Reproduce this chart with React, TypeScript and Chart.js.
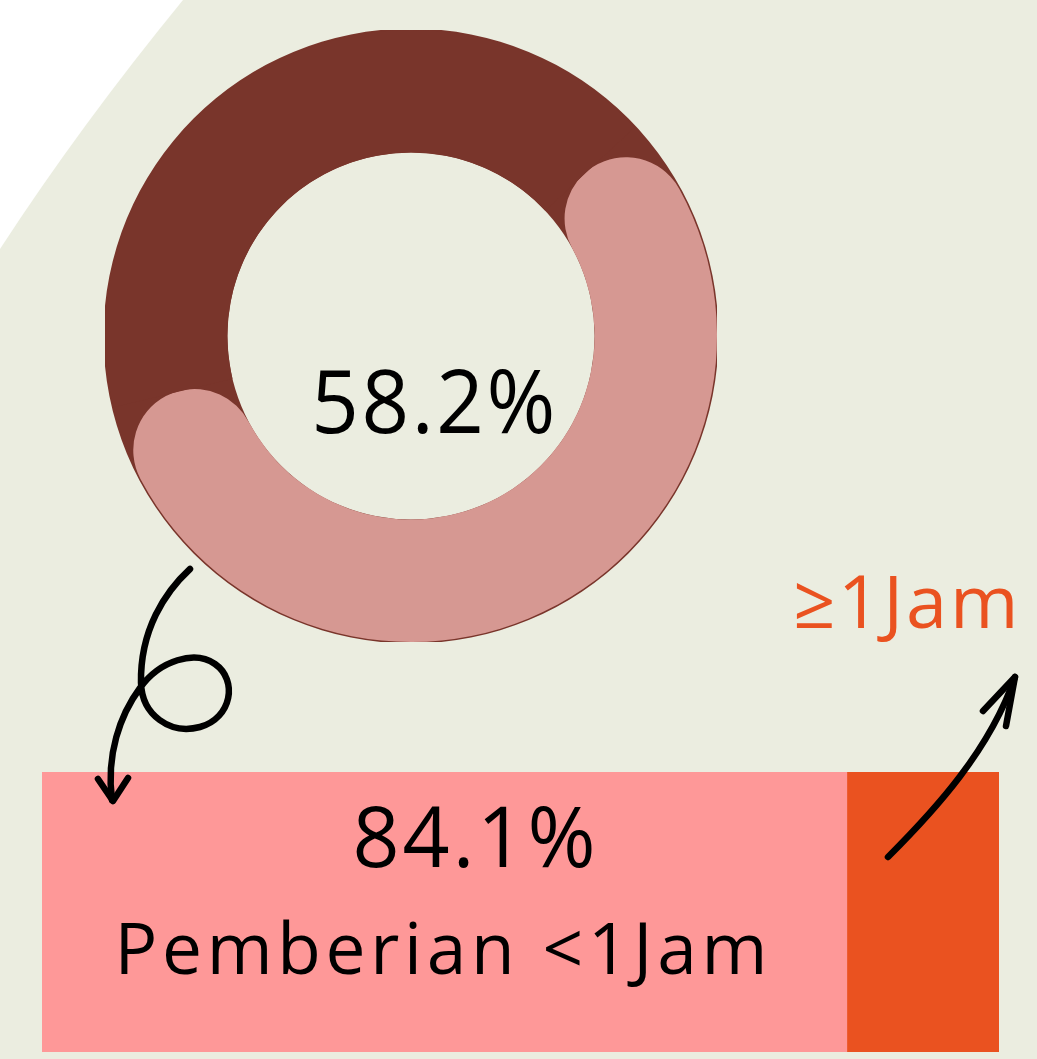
import React, { useEffect, useRef } from "react";
import { Chart, registerables } from "chart.js";

Chart.register(...registerables);

// ---- data ----
const donutLabels = ["Kelompok utama", "Lainnya"];
const donutValues = [58.2, 41.8];

const barCategories = ["Waktu pemberian"];
const barSeriesNames = ["Pemberian <1Jam", "≥1Jam"];
const barLessOneHour = [84.1];
const barOneHourPlus = [15.9];

// ---- style ----
const BG = "#EBEDE0";
const DARK = "#79352B";
const DONUT_PINK = "#D69892";
const BAR_PINK = "#FE9898";
const ORANGE = "#EA5220";
const FONT = "'Open Sans', 'Noto Sans', sans-serif";

function drawTracked(
  ctx: CanvasRenderingContext2D,
  text: string,
  left: number,
  right: number,
  baseline: number,
  cap: number,
  sx: number,
  color: string
) {
  ctx.save();
  (ctx as any).letterSpacing = "0px";
  ctx.font = `100px ${FONT}`;
  const capRef = ctx.measureText("H").actualBoundingBoxAscent || 71.4;
  const size = (cap * 100) / capRef;
  ctx.font = `${size}px ${FONT}`;
  ctx.textAlign = "left";
  ctx.textBaseline = "alphabetic";
  const m = ctx.measureText(text);
  const inkW = m.actualBoundingBoxRight + m.actualBoundingBoxLeft;
  const n = Array.from(text).length;
  const target = (right - left) / sx;
  const ls = n > 1 ? (target - inkW) / (n - 1) : 0;
  (ctx as any).letterSpacing = `${ls}px`;
  ctx.fillStyle = color;
  ctx.translate(left, baseline);
  ctx.scale(sx, 1);
  ctx.fillText(text, m.actualBoundingBoxLeft, 0);
  ctx.restore();
}

export default function App() {
  const barRef = useRef<HTMLCanvasElement>(null);
  const donutRef = useRef<HTMLCanvasElement>(null);

  useEffect(() => {
    if (!barRef.current || !donutRef.current) return;

    const pageDecor = {
      id: "pageDecor",
      beforeDraw(chart: any) {
        const ctx = chart.ctx as CanvasRenderingContext2D;
        ctx.save();
        ctx.fillStyle = "#ffffff";
        ctx.fillRect(0, 0, chart.width, chart.height);
        ctx.fillStyle = BG;
        ctx.beginPath();
        ctx.moveTo(183, 0);
        ctx.quadraticCurveTo(80, 126, 0, 249);
        ctx.lineTo(0, chart.height);
        ctx.lineTo(chart.width, chart.height);
        ctx.lineTo(chart.width, 0);
        ctx.closePath();
        ctx.fill();
        ctx.restore();
      },
      afterDraw(chart: any) {
        const ctx = chart.ctx as CanvasRenderingContext2D;
        const pink = chart.getDatasetMeta(0).data[0] as any;
        const orange = chart.getDatasetMeta(1).data[0] as any;
        const pinkLeft = pink.base;
        const pinkRight = pink.x;
        const pinkMid = (pinkLeft + pinkRight) / 2;
        const top = pink.y - pink.height / 2;

        drawTracked(ctx, barLessOneHour[0].toFixed(1) + "%", pinkMid - 88, pinkMid + 147, top + 95, 62, 0.97, "#000");
        drawTracked(ctx, barSeriesNames[0], pinkMid - 324, pinkMid + 318, top + 202, 52, 1.0, "#000");

        const oMid = (orange.base + orange.x) / 2;
        drawTracked(ctx, barSeriesNames[1], oMid - 127, oMid + 90, top - 144, 54, 1.0, ORANGE);

        // decorative arrows
        ctx.save();
        ctx.strokeStyle = "#000";
        ctx.lineWidth = 6.5;
        ctx.lineCap = "round";
        ctx.lineJoin = "round";
        ctx.beginPath();
        ctx.moveTo(190, 569);
        ctx.bezierCurveTo(165, 592, 140, 630, 141, 683);
        ctx.bezierCurveTo(142, 715, 170, 735, 200, 727);
        ctx.bezierCurveTo(232, 718, 238, 680, 215, 664);
        ctx.bezierCurveTo(195, 650, 160, 660, 140, 688);
        ctx.bezierCurveTo(120, 715, 106, 755, 112, 800);
        ctx.stroke();
        ctx.beginPath();
        ctx.moveTo(98, 779);
        ctx.lineTo(113, 801);
        ctx.lineTo(128, 778);
        ctx.stroke();

        ctx.beginPath();
        ctx.moveTo(888, 857);
        ctx.bezierCurveTo(935, 810, 990, 750, 1015, 677);
        ctx.stroke();
        ctx.beginPath();
        ctx.moveTo(983, 711);
        ctx.lineTo(1015, 677);
        ctx.lineTo(1006, 726);
        ctx.stroke();
        ctx.restore();
      },
    };

    const barChart = new Chart(barRef.current, {
      type: "bar",
      data: {
        labels: barCategories,
        datasets: [
          {
            label: barSeriesNames[0],
            data: barLessOneHour,
            backgroundColor: BAR_PINK,
            borderWidth: 0,
            barPercentage: 1,
            categoryPercentage: 1,
          },
          {
            label: barSeriesNames[1],
            data: barOneHourPlus,
            backgroundColor: ORANGE,
            borderWidth: 0,
            barPercentage: 1,
            categoryPercentage: 1,
          },
        ],
      },
      options: {
        indexAxis: "y",
        responsive: false,
        animation: false,
        layout: { padding: { left: 42, right: 38, top: 772, bottom: 7 } },
        scales: {
          x: { stacked: true, min: 0, max: 100, display: false },
          y: { stacked: true, display: false },
        },
        plugins: { legend: { display: false }, tooltip: { enabled: false } },
        events: [],
      },
      plugins: [pageDecor],
    });

    const ringUnder = {
      id: "ringUnder",
      beforeDatasetsDraw(chart: any) {
        const arc = chart.getDatasetMeta(0).data[0] as any;
        if (!arc) return;
        const ctx = chart.ctx as CanvasRenderingContext2D;
        ctx.save();
        ctx.fillStyle = DARK;
        ctx.beginPath();
        ctx.arc(arc.x, arc.y, arc.outerRadius + 1.5, 0, Math.PI * 2);
        ctx.arc(arc.x, arc.y, arc.innerRadius, 0, Math.PI * 2, true);
        ctx.fill();
        ctx.restore();
      },
      afterDraw(chart: any) {
        const arc = chart.getDatasetMeta(0).data[0] as any;
        if (!arc) return;
        const ctx = chart.ctx as CanvasRenderingContext2D;
        drawTracked(ctx, donutValues[0].toFixed(1) + "%", arc.x - 95, arc.x + 141, arc.y + 97, 64, 0.95, "#000");
      },
    };

    const donutChart = new Chart(donutRef.current, {
      type: "doughnut",
      data: {
        labels: donutLabels,
        datasets: [
          {
            data: donutValues,
            backgroundColor: [DONUT_PINK, DARK],
            borderWidth: 0,
            offset: 0,
            hoverOffset: 0,
            borderRadius: (c: any) => (c.dataIndex === 0 ? 100 : 0),
          } as any,
        ],
      },
      options: {
        responsive: false,
        animation: false,
        cutout: "60%",
        rotation: 47,
        circumference: 360,
        layout: { padding: 0 },
        plugins: { legend: { display: false }, tooltip: { enabled: false } },
        events: [],
      },
      plugins: [ringUnder],
    });

    return () => {
      barChart.destroy();
      donutChart.destroy();
    };
  }, []);

  return (
    <div style={{ position: "fixed", left: 0, top: 0, width: 1037, height: 1059, overflow: "hidden" }}>
      <canvas ref={barRef} width={1037} height={1059} style={{ position: "absolute", left: 0, top: 0 }} />
      <canvas ref={donutRef} width={612} height={612} style={{ position: "absolute", left: 105, top: 30 }} />
    </div>
  );
}
